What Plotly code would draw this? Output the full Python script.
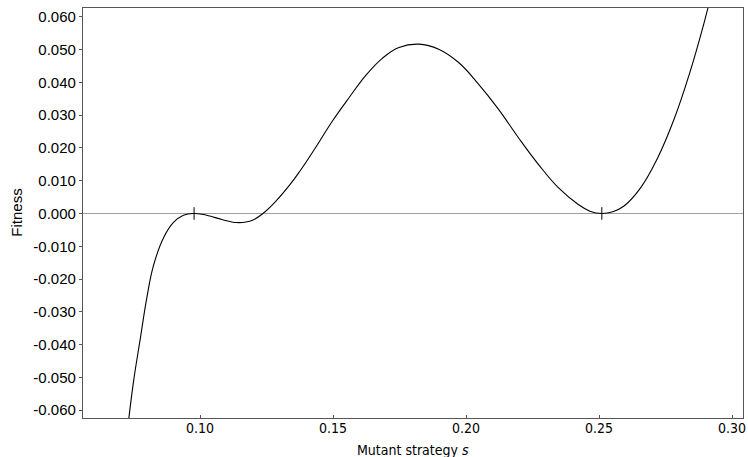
import plotly.graph_objects as go

# Curve points (mutant strategy s, fitness)
s_vals = [0.07320, 0.07507, 0.07757, 0.08007, 0.08254, 0.08628, 0.09002, 0.09376, 0.09776,
          0.10075, 0.10374, 0.10822, 0.11372, 0.11720, 0.11993, 0.12366, 0.12867, 0.13364,
          0.13738, 0.14363, 0.14983, 0.15607, 0.16232, 0.16852, 0.17477, 0.18224, 0.18972,
          0.19720, 0.20467, 0.21215, 0.21963, 0.22710, 0.23458, 0.24206, 0.24655, 0.25103,
          0.25514, 0.25951, 0.26572, 0.27196, 0.27821, 0.28441, 0.28942, 0.29084, 0.29178]
fitness = [-0.06265, -0.05082, -0.03802, -0.02537, -0.01576, -0.00738, -0.00271, -0.00052, 0.0,
           -0.00024, -0.00079, -0.00183, -0.00277, -0.00262, -0.00198, 0.0, 0.00390, 0.00863,
           0.01274, 0.02037, 0.02829, 0.03540, 0.04216, 0.04735, 0.05064, 0.05168, 0.05015,
           0.04607, 0.03948, 0.03186, 0.02320, 0.01509, 0.00796, 0.00284, 0.00070, 0.0,
           0.00055, 0.00238, 0.00796, 0.01686, 0.02881, 0.04378, 0.05802, 0.06244, 0.06490]

# Singular strategies marked on the zero line
singular_s = [0.09776, 0.25103]
singular_f = [0.0, 0.0]

x_ticks = [0.10, 0.15, 0.20, 0.25, 0.30]
x_ticktext = ["0.10", "0.15", "0.20", "0.25", "0.30"]
y_ticks = [0.06, 0.05, 0.04, 0.03, 0.02, 0.01, 0.0, -0.01, -0.02, -0.03, -0.04, -0.05, -0.06]
y_ticktext = ["0.060", "0.050", "0.040", "0.030", "0.020", "0.010", "0.000",
              "-0.010", "-0.020", "-0.030", "-0.040", "-0.050", "-0.060"]

x_range = [0.0560, 0.3041]
y_range = [-0.0624, 0.0627]

fig = go.Figure()
fig.add_trace(go.Scatter(x=x_range, y=[0, 0], mode="lines",
                         line=dict(color="#a0a0a0", width=1), hoverinfo="skip",
                         showlegend=False))
fig.add_trace(go.Scatter(x=s_vals, y=fitness, mode="lines",
                         line=dict(color="black", width=1.1, shape="spline", smoothing=1.2),
                         showlegend=False))
fig.add_trace(go.Scatter(x=singular_s, y=singular_f, mode="markers",
                         marker=dict(symbol="line-ns", size=9,
                                     line=dict(color="black", width=1)),
                         showlegend=False))

fig.update_layout(
    width=748, height=457,
    margin=dict(l=83, r=2, t=8, b=39),
    plot_bgcolor="white", paper_bgcolor="white",
    xaxis=dict(range=x_range, tickvals=x_ticks, ticktext=x_ticktext,
               ticks="inside", ticklen=3, tickcolor="#555",
               showline=True, linecolor="#555", linewidth=1.2, mirror=True,
               showgrid=False, zeroline=False, ticklabeloverflow="allow",
               ticklabelstandoff=-3,
               tickfont=dict(family="DejaVu Sans Condensed, Liberation Sans Narrow, sans-serif",
                             size=14, color="black")),
    yaxis=dict(range=y_range, tickvals=y_ticks, ticktext=y_ticktext,
               ticks="outside", ticklen=3, tickcolor="#555",
               showline=True, linecolor="#555", linewidth=1.2, mirror=True,
               showgrid=False, zeroline=False,
               tickfont=dict(family="Liberation Sans, Arial, sans-serif",
                             size=15, color="black")),
    annotations=[
        dict(text="Mutant strategy <i>s</i>", xref="paper", yref="paper",
             x=0.5, y=-0.078, xanchor="center", yanchor="middle", showarrow=False,
             font=dict(family="DejaVu Sans Condensed, Liberation Sans Narrow, sans-serif",
                       size=14, color="black")),
        dict(text="Fitness", xref="paper", yref="paper", textangle=-90,
             x=-0.102, y=0.5, xanchor="center", yanchor="middle", showarrow=False,
             font=dict(family="Liberation Sans, Arial, sans-serif", size=15, color="black")),
    ],
)

fig.write_html("out.html")
